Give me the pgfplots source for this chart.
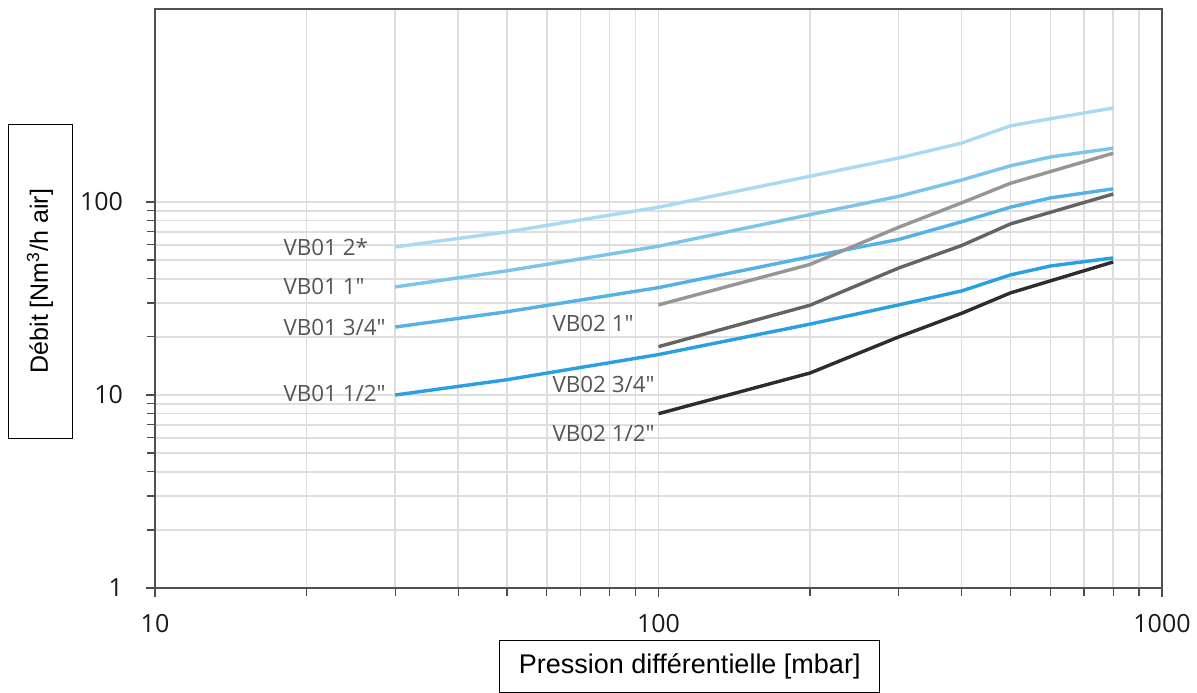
\documentclass[border=0pt]{standalone}
\usepackage{fontspec}
\setmainfont{Open Sans}[Ligatures=TeXOff]
\newfontfamily\labfont{Liberation Sans}
\usepackage{pgfplots}
\pgfplotsset{compat=1.18}
\definecolor{cA}{RGB}{170,218,242}
\definecolor{cB}{RGB}{125,196,235}
\definecolor{cC}{RGB}{85,178,230}
\definecolor{cD}{RGB}{40,160,225}
\definecolor{gA}{RGB}{150,150,150}
\definecolor{gB}{RGB}{100,100,100}
\definecolor{gC}{RGB}{45,45,45}
\definecolor{gridc}{RGB}{222,222,222}
\definecolor{txt}{RGB}{85,85,85}
\definecolor{frame}{RGB}{80,80,80}
\begin{document}
\begin{tikzpicture}
\path[use as bounding box] (-77.5bp,-52.5bp) rectangle (521bp,294bp);
\begin{axis}[
  at={(0,0)}, anchor=south west,
  scale only axis,
  width=503.5bp, height=289.5bp,
  xmode=log, ymode=log,
  xmin=10, xmax=1000, ymin=1, ymax=1000,
  xtick={10,100,1000}, xticklabels={10,100,1000},
  ytick={1,10,100}, yticklabels={1,10,100},
  xtick pos=left, ytick pos=left,
  tick align=outside,
  major tick length=4.5bp, minor tick length=4bp,
  every tick/.style={draw=black!70, line width=0.6bp},
  grid=both,
  major grid style={draw=gridc, line width=0.75bp},
  minor grid style={draw=gridc, line width=0.75bp},
  axis line style={draw=frame, line width=1.1bp},
  tick label style={font=\fontsize{12.5bp}{14bp}\selectfont, text=black!90},
  xticklabel style={yshift=-5bp},
  yticklabel style={xshift=-8bp},
  clip=false,
  every axis plot/.append style={line width=1.7bp, line join=round, mark=none},
]
\addplot[cA] coordinates {(30,58.5) (50,70) (100,94) (200,136) (300,169) (400,202) (500,248) (600,270) (800,307)};
\addplot[cB] coordinates {(30,36.3) (50,44) (100,59) (200,86) (300,107) (400,130) (500,154) (600,171) (800,190)};
\addplot[cC] coordinates {(30,22.5) (50,27) (100,36) (200,52) (300,64) (400,79) (500,94) (600,105) (800,117)};
\addplot[cD] coordinates {(30,10) (50,12) (100,16.2) (200,23.3) (300,29.3) (400,34.6) (500,41.9) (600,46.6) (800,51.3)};
\addplot[gA] coordinates {(100,29.3) (200,47.5) (300,74) (400,99) (500,125) (800,179)};
\addplot[gB] coordinates {(100,17.8) (200,29.2) (300,45.5) (400,59.5) (500,77) (800,110)};
\addplot[gC] coordinates {(100,8) (200,13) (300,20) (400,26.5) (500,33.8) (800,48.9)};
\draw[frame, line width=1.3bp, line cap=rect] (axis cs:10,1000) -- (axis cs:1000,1000) -- (axis cs:1000,1);
\begin{scope}[every node/.style={font=\fontsize{11.2bp}{13bp}\selectfont, text=txt, inner sep=0pt, anchor=west}]
\node at (axis cs:17.97,58.5) {VB01 2*};
\node at (axis cs:17.97,36.3) {VB01 1"};
\node at (axis cs:17.97,22.5) {VB01 3/4"};
\node at (axis cs:17.97,10.24) {VB01 1/2"};
\node at (axis cs:61.5,23.6) {VB02 1"};
\node at (axis cs:61.5,11.27) {VB02 3/4"};
\node at (axis cs:61.5,6.35) {VB02 1/2"};
\end{scope}
\node[draw=black, line width=0.5bp, anchor=north, minimum width=190bp, minimum height=26bp, inner sep=0pt,
  font=\labfont\fontsize{13.5bp}{15bp}\selectfont]
  at ([yshift=-26bp]axis description cs:0.531,0) {Pression différentielle [mbar]};
\node[draw=black, line width=0.5bp, rotate=90, minimum width=157bp, minimum height=32bp, inner sep=0pt,
  font=\labfont\fontsize{12.5bp}{15bp}\selectfont]
  at ([xshift=-57.5bp]axis description cs:0,0.530) {Débit [Nm\textsuperscript{3}/h air]};
\end{axis}
\end{tikzpicture}
\end{document}
